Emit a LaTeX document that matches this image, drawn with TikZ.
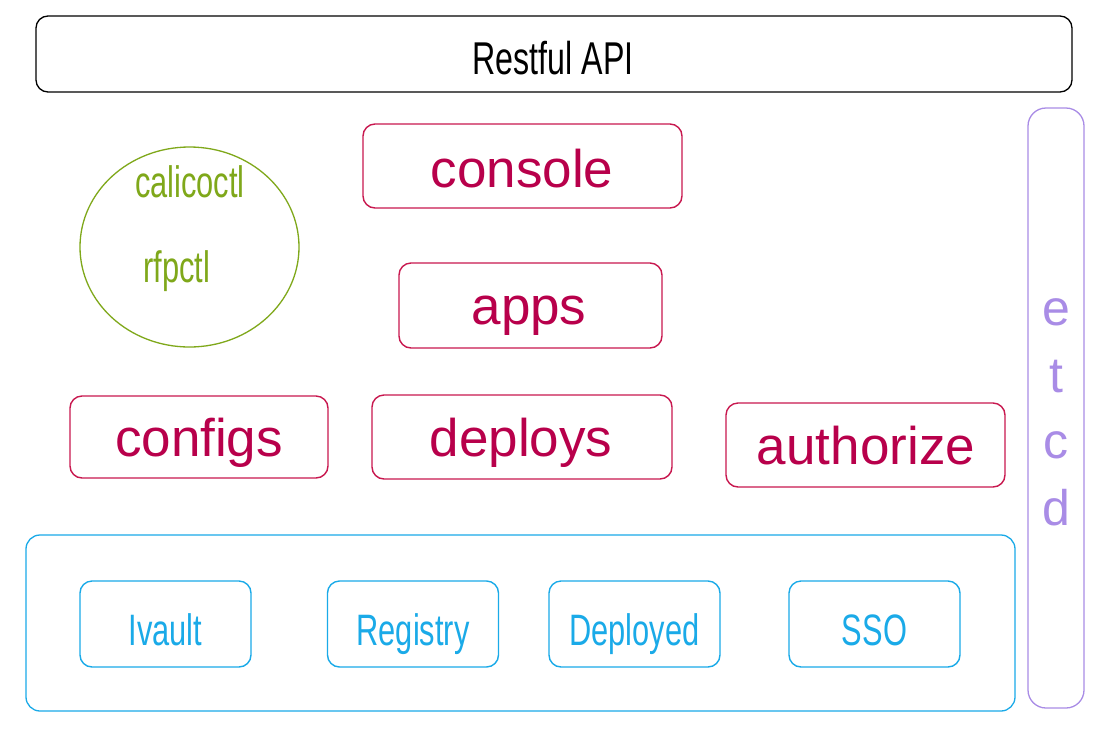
\documentclass[tikz,border=0pt]{standalone}
\usepackage{fontspec}
\setmainfont{Liberation Sans}
\newfontfamily\handfont[FakeStretch=0.7]{Liberation Sans}
\usetikzlibrary{shapes.geometric}
\definecolor{crim}{HTML}{B8004B}
\definecolor{crimline}{HTML}{C8184F}
\definecolor{olive}{HTML}{7FA81A}
\definecolor{cyanb}{HTML}{1AAAE8}
\definecolor{lav}{HTML}{A98CE6}
\tikzset{
  mainbox/.style={draw=crimline, line width=1.4pt, rounded corners=12pt, inner sep=0pt},
  maintext/.style={inner sep=0pt, anchor=base, text=crim, font=\fontsize{53}{60}\selectfont},
  svcbox/.style={draw=cyanb, line width=1.4pt, rounded corners=12pt, inner sep=0pt,
    minimum width=171pt, minimum height=86pt},
  handtext/.style={inner sep=0pt, anchor=base, font=\handfont\fontsize{44}{50}\selectfont},
  etcdletter/.style={inner sep=0pt, anchor=base, text=lav, font=\fontsize{50}{56}\selectfont},
}
\begin{document}
\begin{tikzpicture}[x=1pt,y=-1pt]
\fill[white] (0,0) rectangle (1106,729);
\useasboundingbox (0,0) rectangle (1106,729);
% Restful API
\node[draw=black, line width=1.3pt, rounded corners=12pt, inner sep=0pt, minimum width=1036pt, minimum height=76pt] (api) at (554,54) {};
\node[handtext, font=\handfont\fontsize{46}{50}\selectfont] (apit) at (553,74) {Restful API};
% tools ellipse
\node[ellipse, draw=olive, line width=1.3pt, minimum width=219pt, minimum height=200pt, inner sep=0pt] (tools) at (189.5,247) {};
\node[handtext, text=olive] (calico) at (190,197) {calicoctl};
\node[handtext, text=olive] (rfp) at (177,282) {rfpctl};
% main components
\node[mainbox, minimum width=319pt, minimum height=84pt] (console) at (522.5,166) {};
\node[maintext] (consolet) at (522,187) {console};
\node[mainbox, minimum width=263pt, minimum height=85pt] (apps) at (530.5,305.5) {};
\node[maintext] (appst) at (529,324) {apps};
\node[mainbox, minimum width=258pt, minimum height=82pt] (configs) at (199,437) {};
\node[maintext] (configst) at (199,456) {configs};
\node[mainbox, minimum width=300pt, minimum height=84pt] (deploys) at (522,437) {};
\node[maintext] (deployst) at (521,456) {deploys};
\node[mainbox, minimum width=279pt, minimum height=84pt] (authorize) at (865.5,445) {};
\node[maintext] (authorizet) at (866,464) {authorize};
% etcd
\node[draw=lav, line width=1.3pt, rounded corners=18pt, inner sep=0pt, minimum width=56pt, minimum height=600pt] (etcd) at (1056,408) {};
\node[etcdletter] (e1) at (1056,325) {e};
\node[etcdletter] (e2) at (1056,392) {t};
\node[etcdletter] (e3) at (1056,458) {c};
\node[etcdletter] (e4) at (1056,525) {d};
% services container
\node[draw=cyanb, line width=1.3pt, rounded corners=14pt, inner sep=0pt, minimum width=989pt, minimum height=176pt] (svc) at (520.5,623) {};
\node[svcbox] (ivault) at (165.5,624) {};
\node[handtext, text=cyanb] (ivaultt) at (165.5,645) {Ivault};
\node[svcbox] (registry) at (413,624) {};
\node[handtext, text=cyanb] (registryt) at (413,645) {Registry};
\node[svcbox] (deployed) at (634.5,624) {};
\node[handtext, text=cyanb] (deployedt) at (634.5,645) {Deployed};
\node[svcbox] (sso) at (874.5,624) {};
\node[handtext, text=cyanb] (ssot) at (874.5,645) {SSO};
\end{tikzpicture}
\end{document}
